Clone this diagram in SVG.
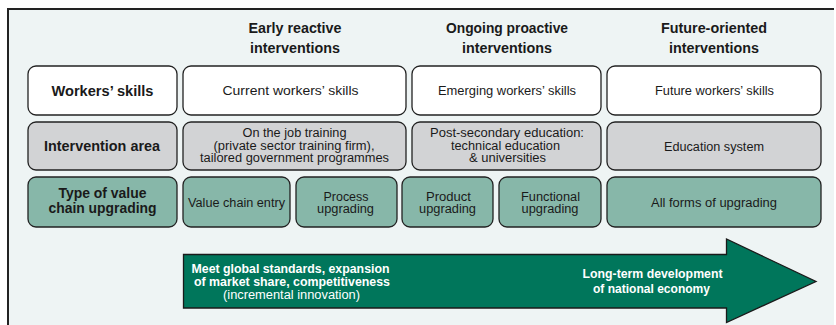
<svg xmlns="http://www.w3.org/2000/svg" width="836" height="325" viewBox="0 0 836 325">
  <style>
    text { font-family: "Liberation Sans", Arial, sans-serif; fill: #1a1a1a; text-anchor: middle; }
    .hd { font-size: 14px; font-weight: bold; }
    .lbl { font-size: 15px; font-weight: bold; }
    .lbl2 { font-size: 14px; font-weight: bold; }
    .tx { font-size: 12.5px; }
    .box { stroke: #222; stroke-width: 1.3; }
    .w { fill: #ffffff; }
    .g { fill: #d2d3d5; }
    .t { fill: #87b7a9; }
    .ar { font-size: 12.5px; font-weight: bold; fill: #ffffff; }
    .ari { font-size: 12.5px; fill: #ffffff; }
  </style>

  <!-- panel background and frame -->
  <rect x="0" y="0" width="836" height="325" fill="#ffffff"/>
  <rect x="8" y="9" width="826" height="316" fill="#eef4f4"/>
  <path d="M8 325 V9 H834" fill="none" stroke="#222" stroke-width="2"/>

  <!-- column headers -->
  <g id="hdr-early">
    <text class="hd" x="295" y="33" textLength="93" lengthAdjust="spacingAndGlyphs">Early reactive</text>
    <text class="hd" x="295" y="53" textLength="90" lengthAdjust="spacingAndGlyphs">interventions</text>
  </g>
  <g id="hdr-ongoing">
    <text class="hd" x="507" y="33" textLength="122" lengthAdjust="spacingAndGlyphs">Ongoing proactive</text>
    <text class="hd" x="507" y="53" textLength="90" lengthAdjust="spacingAndGlyphs">interventions</text>
  </g>
  <g id="hdr-future">
    <text class="hd" x="714" y="33" textLength="106" lengthAdjust="spacingAndGlyphs">Future-oriented</text>
    <text class="hd" x="714" y="53" textLength="90" lengthAdjust="spacingAndGlyphs">interventions</text>
  </g>

  <!-- row 1: workers' skills -->
  <g id="workers-skills">
    <rect class="box w" x="28" y="66" width="149" height="49" rx="8"/>
    <text class="lbl" x="102.5" y="96" textLength="102" lengthAdjust="spacingAndGlyphs">Workers’ skills</text>
  </g>
  <g id="current-skills">
    <rect class="box w" x="183" y="66" width="223" height="49" rx="8"/>
    <text class="tx" x="290.5" y="95" textLength="136" lengthAdjust="spacingAndGlyphs">Current workers’ skills</text>
  </g>
  <g id="emerging-skills">
    <rect class="box w" x="412" y="66" width="189" height="49" rx="8"/>
    <text class="tx" x="507" y="95" textLength="138" lengthAdjust="spacingAndGlyphs">Emerging workers’ skills</text>
  </g>
  <g id="future-skills">
    <rect class="box w" x="607" y="66" width="214" height="49" rx="8"/>
    <text class="tx" x="714.5" y="95" textLength="119" lengthAdjust="spacingAndGlyphs">Future workers’ skills</text>
  </g>

  <!-- row 2: intervention area -->
  <g id="intervention-area">
    <rect class="box g" x="28" y="122" width="149" height="48" rx="8"/>
    <text class="lbl" x="102" y="151" textLength="116" lengthAdjust="spacingAndGlyphs">Intervention area</text>
  </g>
  <g id="on-the-job">
    <rect class="box g" x="183" y="122" width="223" height="48" rx="8"/>
    <text class="tx" x="294.5" y="137" textLength="104" lengthAdjust="spacingAndGlyphs">On the job training</text>
    <text class="tx" x="294" y="149.5" textLength="161" lengthAdjust="spacingAndGlyphs">(private sector training firm),</text>
    <text class="tx" x="294.5" y="162" textLength="189" lengthAdjust="spacingAndGlyphs">tailored government programmes</text>
  </g>
  <g id="post-secondary">
    <rect class="box g" x="412" y="122" width="189" height="48" rx="8"/>
    <text class="tx" x="507" y="137" textLength="154" lengthAdjust="spacingAndGlyphs">Post-secondary education:</text>
    <text class="tx" x="505.5" y="149.5" textLength="109" lengthAdjust="spacingAndGlyphs">technical education</text>
    <text class="tx" x="507.5" y="162" textLength="77" lengthAdjust="spacingAndGlyphs">&amp; universities</text>
  </g>
  <g id="education-system">
    <rect class="box g" x="607" y="122" width="214" height="48" rx="8"/>
    <text class="tx" x="714" y="150.5" textLength="100" lengthAdjust="spacingAndGlyphs">Education system</text>
  </g>

  <!-- row 3: type of value chain upgrading -->
  <g id="upgrading-type">
    <rect class="box t" x="28" y="177" width="149" height="50" rx="8"/>
    <text class="lbl2" x="102.5" y="197.5" textLength="88" lengthAdjust="spacingAndGlyphs">Type of value</text>
    <text class="lbl2" x="102.5" y="213" textLength="108" lengthAdjust="spacingAndGlyphs">chain upgrading</text>
  </g>
  <g id="value-chain-entry">
    <rect class="box t" x="183" y="177" width="107" height="50" rx="8"/>
    <text class="tx" x="236.5" y="206.5" textLength="97" lengthAdjust="spacingAndGlyphs">Value chain entry</text>
  </g>
  <g id="process-upgrading">
    <rect class="box t" x="296" y="177" width="101" height="50" rx="8"/>
    <text class="tx" x="346" y="200.5" textLength="45" lengthAdjust="spacingAndGlyphs">Process</text>
    <text class="tx" x="345.5" y="213" textLength="57" lengthAdjust="spacingAndGlyphs">upgrading</text>
  </g>
  <g id="product-upgrading">
    <rect class="box t" x="402" y="177" width="91" height="50" rx="8"/>
    <text class="tx" x="448.5" y="200.5" textLength="45" lengthAdjust="spacingAndGlyphs">Product</text>
    <text class="tx" x="447.5" y="213" textLength="57" lengthAdjust="spacingAndGlyphs">upgrading</text>
  </g>
  <g id="functional-upgrading">
    <rect class="box t" x="499" y="177" width="102" height="50" rx="8"/>
    <text class="tx" x="550.5" y="200.5" textLength="59" lengthAdjust="spacingAndGlyphs">Functional</text>
    <text class="tx" x="550" y="213" textLength="57" lengthAdjust="spacingAndGlyphs">upgrading</text>
  </g>
  <g id="all-forms">
    <rect class="box t" x="607" y="177" width="214" height="50" rx="8"/>
    <text class="tx" x="714" y="206.5" textLength="126" lengthAdjust="spacingAndGlyphs">All forms of upgrading</text>
  </g>

  <!-- progression arrow -->
  <g id="connectors">
    <path id="progress-arrow" d="M183.5 254.5 H726.5 V239 L816 281.5 L726.5 322.5 V308 H183.5 Z" fill="#00765b" stroke="#1a1a1a" stroke-width="1.3" stroke-linejoin="miter"/>
    <text class="ar" x="290.5" y="272.5" textLength="198" lengthAdjust="spacingAndGlyphs">Meet global standards, expansion</text>
    <text class="ar" x="292" y="286" textLength="196" lengthAdjust="spacingAndGlyphs">of market share, competitiveness</text>
    <text class="ari" x="291.5" y="298.5" textLength="137" lengthAdjust="spacingAndGlyphs">(incremental innovation)</text>
    <text class="ar" x="652.5" y="277.5" textLength="140" lengthAdjust="spacingAndGlyphs">Long-term development</text>
    <text class="ar" x="651.5" y="292.5" textLength="117" lengthAdjust="spacingAndGlyphs">of national economy</text>
  </g>
</svg>
